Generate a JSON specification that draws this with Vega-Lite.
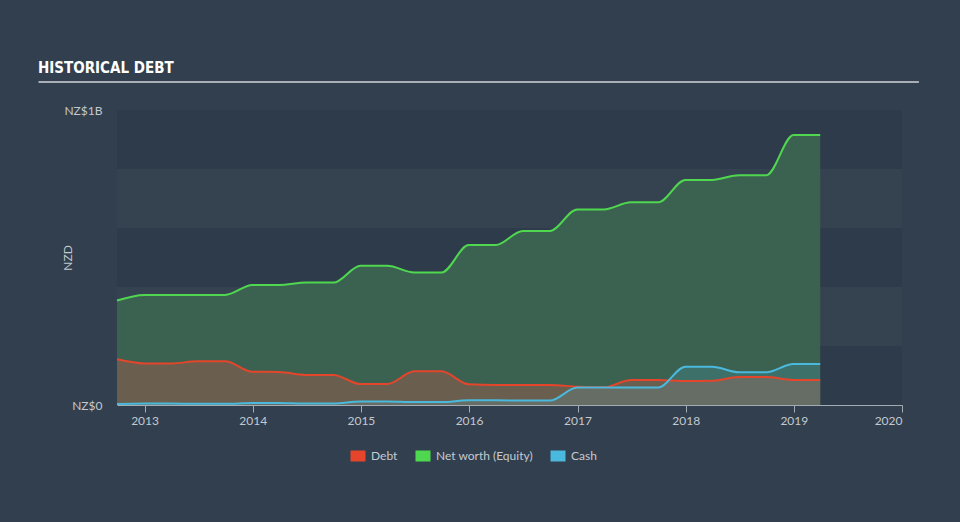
{
  "$schema": "https://vega.github.io/schema/vega-lite/v6.json",
  "width": 785,
  "height": 295,
  "autosize": {"type": "none"},
  "padding": {"left": 117, "top": 110, "right": 58, "bottom": 117},
  "background": "#323f4e",
  "config": {
    "view": {"fill": "#35424f", "stroke": null},
    "font": "Lato",
    "axis": {"grid": false, "labelFont": "Lato", "labelColor": "#c3c9cf", "labelFontSize": 12, "titleFont": "Lato"}
  },
  "title": {
    "text": "HISTORICAL DEBT",
    "anchor": "start",
    "frame": "group",
    "dx": -79,
    "offset": 5,
    "font": "DejaVu Sans Condensed, DejaVu Sans",
    "fontSize": 15,
    "fontWeight": "bold",
    "color": "#ffffff"
  },
  "datasets": {
    "bands": [
      {"lo": 0, "hi": 200},
      {"lo": 400, "hi": 600},
      {"lo": 800, "hi": 1000}
    ],
    "fin": [
      {"date": "2012-09-30", "Net worth (Equity)": 354, "Debt": 155, "Cash": 3},
      {"date": "2012-12-31", "Net worth (Equity)": 373, "Debt": 141, "Cash": 5},
      {"date": "2013-03-31", "Net worth (Equity)": 373, "Debt": 141, "Cash": 5},
      {"date": "2013-06-30", "Net worth (Equity)": 373, "Debt": 148, "Cash": 4},
      {"date": "2013-09-30", "Net worth (Equity)": 373, "Debt": 148, "Cash": 4},
      {"date": "2013-12-31", "Net worth (Equity)": 407, "Debt": 113, "Cash": 7},
      {"date": "2014-03-31", "Net worth (Equity)": 407, "Debt": 112, "Cash": 7},
      {"date": "2014-06-30", "Net worth (Equity)": 415, "Debt": 102, "Cash": 5},
      {"date": "2014-09-30", "Net worth (Equity)": 415, "Debt": 102, "Cash": 5},
      {"date": "2014-12-31", "Net worth (Equity)": 472, "Debt": 71, "Cash": 12},
      {"date": "2015-03-31", "Net worth (Equity)": 472, "Debt": 71, "Cash": 12},
      {"date": "2015-06-30", "Net worth (Equity)": 449, "Debt": 114, "Cash": 10},
      {"date": "2015-09-30", "Net worth (Equity)": 449, "Debt": 114, "Cash": 10},
      {"date": "2015-12-31", "Net worth (Equity)": 542, "Debt": 70, "Cash": 16},
      {"date": "2016-03-31", "Net worth (Equity)": 542, "Debt": 68, "Cash": 16},
      {"date": "2016-06-30", "Net worth (Equity)": 590, "Debt": 68, "Cash": 15},
      {"date": "2016-09-30", "Net worth (Equity)": 590, "Debt": 68, "Cash": 15},
      {"date": "2016-12-31", "Net worth (Equity)": 663, "Debt": 62, "Cash": 59},
      {"date": "2017-03-31", "Net worth (Equity)": 663, "Debt": 60, "Cash": 59},
      {"date": "2017-06-30", "Net worth (Equity)": 687, "Debt": 85, "Cash": 59},
      {"date": "2017-09-30", "Net worth (Equity)": 687, "Debt": 85, "Cash": 59},
      {"date": "2017-12-31", "Net worth (Equity)": 763, "Debt": 81, "Cash": 130},
      {"date": "2018-03-31", "Net worth (Equity)": 763, "Debt": 82, "Cash": 130},
      {"date": "2018-06-30", "Net worth (Equity)": 779, "Debt": 95, "Cash": 111},
      {"date": "2018-09-30", "Net worth (Equity)": 779, "Debt": 95, "Cash": 111},
      {"date": "2018-12-31", "Net worth (Equity)": 915, "Debt": 85, "Cash": 139},
      {"date": "2019-03-31", "Net worth (Equity)": 915, "Debt": 85, "Cash": 139}
    ]
  },
  "layer": [
    {
      "data": {"name": "bands"},
      "mark": {"type": "rect", "color": "#2e3b4a"},
      "encoding": {
        "y": {
          "field": "lo",
          "type": "quantitative",
          "scale": {"domain": [0, 1000], "nice": false},
          "axis": {
            "values": [0, 1000],
            "labelExpr": "datum.value == 0 ? 'NZ$0' : 'NZ$1B'",
            "ticks": false,
            "domain": false,
            "labelPadding": 15,
            "title": "NZD",
            "titleColor": "#c3c9cf",
            "titleFontSize": 12,
            "titleFontWeight": "normal",
            "titlePadding": -11
          }
        },
        "y2": {"field": "hi"}
      }
    },
    {
      "data": {"name": "fin"},
      "mark": {"type": "area", "interpolate": "monotone", "fill": "#3b6251", "fillOpacity": 1},
      "encoding": {
        "x": {
          "field": "date",
          "type": "temporal",
          "scale": {"type": "utc", "domain": [{"year": 2012, "month": 9, "date": 30, "utc": true}, {"year": 2020, "month": 1, "date": 1, "utc": true}]},
          "axis": {
            "format": "%Y",
            "tickCount": "year",
            "domainColor": "#a3abb3",
            "tickColor": "#a3abb3",
            "tickSize": 7,
            "labelPadding": 3,
            "labelFlush": true,
            "title": null
          }
        },
        "y": {"field": "Net worth (Equity)", "type": "quantitative", "title": "NZD"}
      }
    },
    {
      "data": {"name": "fin"},
      "mark": {"type": "area", "interpolate": "monotone", "fill": "#6a5f4e", "fillOpacity": 1},
      "encoding": {
        "x": {"field": "date", "type": "temporal"},
        "y": {"field": "Debt", "type": "quantitative", "title": "NZD"}
      }
    },
    {
      "data": {"name": "fin"},
      "mark": {"type": "area", "interpolate": "monotone", "fill": "#4ab9dd", "fillOpacity": 0.16},
      "encoding": {
        "x": {"field": "date", "type": "temporal"},
        "y": {"field": "Cash", "type": "quantitative", "title": "NZD"}
      }
    },
    {
      "data": {"name": "fin"},
      "transform": [{"fold": ["Net worth (Equity)", "Debt", "Cash"], "as": ["series", "value"]}],
      "mark": {"type": "line", "interpolate": "monotone", "strokeWidth": 2},
      "encoding": {
        "x": {"field": "date", "type": "temporal"},
        "y": {"field": "value", "type": "quantitative", "title": "NZD"},
        "color": {
          "field": "series",
          "type": "nominal",
          "scale": {"domain": ["Debt", "Net worth (Equity)", "Cash"], "range": ["#e4452b", "#4fd84f", "#4ab9dd"]},
          "legend": {
            "orient": "none",
            "legendX": 228,
            "legendY": 333,
            "direction": "horizontal",
            "title": null,
            "padding": 0,
            "symbolType": "stroke",
            "symbolSize": 225,
            "labelColor": "#c5cad0",
            "labelFontSize": 12,
            "labelFont": "Lato",
            "labelOffset": 0,
            "columnPadding": -5,
            "encode": {"symbols": {"update": {"strokeWidth": {"value": 11}, "opacity": {"value": 1}}}}
          }
        }
      }
    },
    {
      "data": {"values": [{}]},
      "mark": {"type": "rule", "color": "#a7aeb6", "strokeWidth": 2},
      "encoding": {
        "x": {"datum": {"year": 2012, "month": 1, "date": 9, "utc": true}, "type": "temporal"},
        "x2": {"datum": {"year": 2020, "month": 2, "date": 27, "utc": true}},
        "y": {"datum": 1095, "type": "quantitative"}
      }
    }
  ]
}
